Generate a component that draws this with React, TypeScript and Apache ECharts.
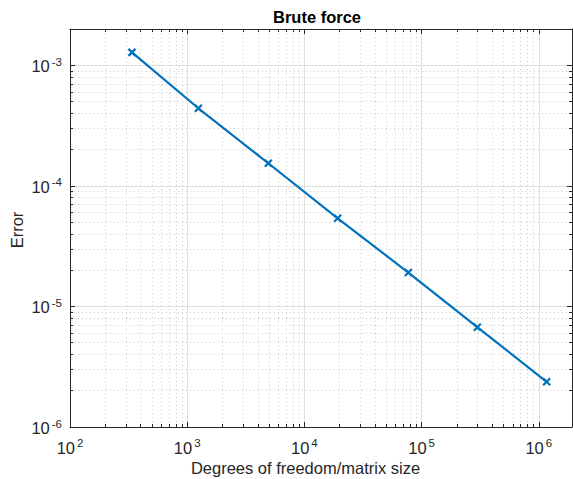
import React, { useEffect, useRef } from "react";
import * as echarts from "echarts";

const dof = [338, 1245, 4920, 19230, 77100, 298600, 1167000];
const errorValues = [1.28e-3, 4.4e-4, 1.54e-4, 5.38e-5, 1.91e-5, 6.73e-6, 2.37e-6];
const xMajorTicks = [1e2, 1e3, 1e4, 1e5, 1e6];
const yMajorTicks = [1e-6, 1e-5, 1e-4, 1e-3];
const xRange = [100, 1.92e6];
const yRange = [1e-6, 2e-3];
const titleText = "Brute force";
const xLabelText = "Degrees of freedom/matrix size";
const yLabelText = "Error";

const minorOf = (majors: number[], lo: number, hi: number) => {
  const out: number[] = [];
  majors.concat([majors[majors.length - 1] * 10]).forEach((m) => {
    for (let k = 2; k <= 9; k++) {
      const v = m * k;
      if (v > lo * 1.0001 && v < hi * 0.9999) out.push(v);
    }
  });
  return out;
};

const FONT = "'Liberation Sans', Arial, Helvetica, sans-serif";
const AX = "#262626";

export default function App() {
  const ref = useRef<HTMLDivElement>(null);
  useEffect(() => {
    if (!ref.current) return;
    const chart = echarts.init(ref.current, undefined, { renderer: "svg" });
    const xMinor = minorOf([1e1].concat(xMajorTicks), xRange[0], xRange[1]);
    const yMinor = minorOf([1e-7].concat(yMajorTicks), yRange[0], yRange[1]);
    const fmt = (v: number) => {
      const e = Math.round(Math.log10(v));
      return "{b|10}{s|" + e + "}";
    };
    const rich = {
      b: { fontSize: 16.5, lineHeight: 19, verticalAlign: "bottom", color: AX, fontFamily: FONT },
      s: { fontSize: 11.5, lineHeight: 11, verticalAlign: "top", color: AX, fontFamily: FONT, padding: [0, 0, 0, 2] },
    };
    const gridRect = { left: 70, top: 29, width: 502, height: 398 };
    const baseX = (extra: any) => ({
      type: "log",
      logBase: 10,
      min: xRange[0],
      max: xRange[1],
      axisLine: { show: true, lineStyle: { color: AX, width: 1 } },
      axisLabel: { show: false },
      splitLine: { show: false },
      minorTick: { show: false },
      ...extra,
    });
    const baseY = (extra: any) => ({
      type: "log",
      logBase: 10,
      min: yRange[0],
      max: yRange[1],
      axisLine: { show: true, lineStyle: { color: AX, width: 1 } },
      axisLabel: { show: false },
      splitLine: { show: false },
      minorTick: { show: false },
      ...extra,
    });
    const majorTick = (vals: number[]) => ({
      show: true,
      inside: true,
      length: 5,
      customValues: vals,
      lineStyle: { color: AX, width: 1 },
    });
    const minorTick = (vals: number[]) => ({
      show: true,
      inside: true,
      length: 3,
      customValues: vals,
      lineStyle: { color: AX, width: 1 },
    });
    chart.setOption({
      animation: false,
      backgroundColor: "#ffffff",
      title: {
        text: titleText,
        left: 312,
        top: 3,
        textAlign: "center",
        textStyle: { fontFamily: FONT, fontSize: 16.5, fontWeight: "bold", color: "#000" },
      },
      grid: [
        { ...gridRect, containLabel: false },
        { ...gridRect, containLabel: false },
      ],
      xAxis: [
        baseX({
          gridIndex: 0,
          position: "bottom",
          axisTick: majorTick(xMajorTicks),
          axisLabel: {
            show: true,
            customValues: xMajorTicks,
            formatter: fmt,
            rich,
            margin: 10,
            showMinLabel: true,
            showMaxLabel: true,
          },
          splitLine: {
            show: true,
            lineStyle: { color: "#dfdfdf", width: 1, type: "solid" },
          },
        }),
        baseX({ gridIndex: 0, position: "top", axisTick: majorTick(xMajorTicks) }),
        baseX({
          gridIndex: 1,
          position: "bottom",
          axisLine: { show: false },
          axisTick: minorTick(xMinor),
          splitLine: {
            show: true,
            lineStyle: { color: "#cbcbcb", width: 1, type: [1, 3] },
          },
        }),
        baseX({
          gridIndex: 1,
          position: "top",
          axisLine: { show: false },
          axisTick: minorTick(xMinor),
        }),
      ],
      yAxis: [
        baseY({
          gridIndex: 0,
          position: "left",
          axisTick: majorTick(yMajorTicks),
          axisLabel: {
            show: true,
            customValues: yMajorTicks,
            formatter: fmt,
            rich,
            margin: 8,
            showMinLabel: true,
            showMaxLabel: true,
          },
          splitLine: {
            show: true,
            lineStyle: { color: "#dfdfdf", width: 1, type: "solid" },
          },
        }),
        baseY({ gridIndex: 0, position: "right", axisTick: majorTick(yMajorTicks) }),
        baseY({
          gridIndex: 1,
          position: "left",
          axisLine: { show: false },
          axisTick: minorTick(yMinor),
          splitLine: {
            show: true,
            lineStyle: { color: "#cbcbcb", width: 1, type: [1, 3] },
          },
        }),
        baseY({
          gridIndex: 1,
          position: "right",
          axisLine: { show: false },
          axisTick: minorTick(yMinor),
        }),
      ],
      graphic: [
        {
          type: "text",
          x: 305.5,
          y: 468,
          style: {
            text: xLabelText,
            fontFamily: FONT,
            fontSize: 16.5,
            fill: AX,
            align: "center",
            verticalAlign: "middle",
          },
        },
        {
          type: "text",
          x: 17,
          y: 230,
          rotation: Math.PI / 2,
          style: {
            text: yLabelText,
            fontFamily: FONT,
            fontSize: 16.5,
            fill: AX,
            align: "center",
            verticalAlign: "middle",
          },
        },
      ],
      series: [
        {
          type: "line",
          xAxisIndex: 0,
          yAxisIndex: 0,
          data: dof.map((d, i) => [d, errorValues[i]]),
          symbol: "path://M0,0L10,10M0,10L10,0",
          symbolSize: 7,
          showSymbol: true,
          lineStyle: { color: "#0072BD", width: 2.2 },
          itemStyle: { color: "#0072BD", borderColor: "#0072BD", borderWidth: 2.2 },
          z: 5,
        },
        {
          type: "line",
          xAxisIndex: 2,
          yAxisIndex: 2,
          data: [],
        },
      ],
    });
    return () => chart.dispose();
  }, []);
  return <div ref={ref} style={{ width: 573, height: 479, position: "absolute", left: 0, top: 0 }} />;
}
